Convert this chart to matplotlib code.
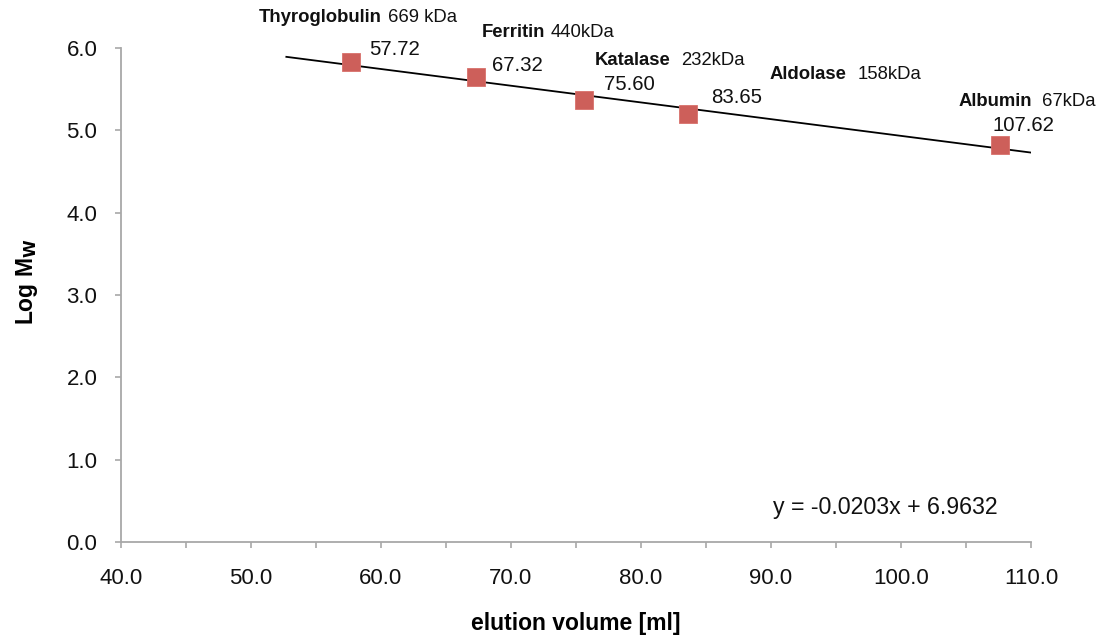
import numpy as np
import matplotlib
matplotlib.use("Agg")
import matplotlib.pyplot as plt
from matplotlib.ticker import MultipleLocator, FormatStrFormatter

plt.rcParams['font.family'] = ['Liberation Sans', 'DejaVu Sans']

# Calibration proteins for the gel-filtration column
proteins = ["Thyroglobulin", "Ferritin", "Katalase", "Aldolase", "Albumin"]
mass_labels = ["669 kDa", "440kDa", "232kDa", "158kDa", "67kDa"]
mass_kda = [669, 440, 232, 158, 67]
elution_ml = [57.72, 67.32, 75.60, 83.65, 107.62]
value_labels = ["57.72", "67.32", "75.60", "83.65", "107.62"]

# Linear calibration fit (log Mw vs elution volume)
slope = -0.0203
intercept = 6.9632
fit_range = [52.72, 110.0]

# Label placement (pixel offsets from each marker)
value_offsets = [(18, 13), (16, 12), (20, 16), (23, 17), (-8, 19)]
name_offsets = [(-93, 45), (6, 45), (11, 40), (81, 40), (-42, 43)]
name_gaps = [7, 5, 11, 11, 10]

log_mw = np.log10(np.array(mass_kda) * 1000.0)

fig = plt.figure(figsize=(11.01, 6.37), dpi=100)
ax = fig.add_axes([0.1099, 0.1491, 0.8265, 0.7755])

fx = np.array(fit_range)
ax.plot(fx, slope * fx + intercept, color='black', lw=1.3, zorder=2)
ax.plot(elution_ml, log_mw, linestyle='none', marker='s', markersize=13,
        color='#CD5F5A', markeredgecolor='#D8706B', markeredgewidth=0.6,
        zorder=3)

for x, y, v, off in zip(elution_ml, log_mw, value_labels, value_offsets):
    ax.annotate(v, (x, y), xytext=off, textcoords='offset pixels',
                fontsize=14.7, ha='left', va='center', color='#111111',
                annotation_clip=False)

for x, y, name, mass, off, gap in zip(elution_ml, log_mw, proteins,
                                      mass_labels, name_offsets, name_gaps):
    t = ax.annotate(name, (x, y), xytext=off, textcoords='offset pixels',
                    fontsize=13.3, fontweight='bold', ha='left', va='center',
                    color='#111111', annotation_clip=False)
    ax.annotate(mass, xy=(1, 0.5), xycoords=t, xytext=(gap, 0),
                textcoords='offset pixels', fontsize=13.3, ha='left',
                va='center', color='#111111', annotation_clip=False)

ax.text(0.9637, 0.07, "y = -0.0203x + 6.9632", transform=ax.transAxes,
        fontsize=16.7, ha='right', va='center', color='#111111')

ax.set_xlim(40, 110)
ax.set_ylim(0, 6)
ax.xaxis.set_major_locator(MultipleLocator(10))
ax.xaxis.set_minor_locator(MultipleLocator(5))
ax.yaxis.set_major_locator(MultipleLocator(1))
ax.xaxis.set_major_formatter(FormatStrFormatter('%.1f'))
ax.yaxis.set_major_formatter(FormatStrFormatter('%.1f'))

for side in ('top', 'right'):
    ax.spines[side].set_visible(False)
for side in ('left', 'bottom'):
    ax.spines[side].set_color('#A8A8A8')
    ax.spines[side].set_linewidth(1.3)

ax.tick_params(axis='x', which='major', direction='out', length=4,
               width=1.2, color='#A8A8A8', labelsize=16, pad=15,
               labelcolor='#111111')
ax.tick_params(axis='x', which='minor', direction='out', length=4,
               width=1.2, color='#A8A8A8')
ax.tick_params(axis='y', which='major', direction='out', length=4,
               width=1.2, color='#A8A8A8', labelsize=16, pad=13,
               labelcolor='#111111')

ax.set_xlabel("elution volume [ml]", fontsize=16.5, fontweight='bold',
              labelpad=16)
ax.set_ylabel(r"Log M$_\mathbf{W}$", fontsize=16.5, fontweight='bold',
              labelpad=19, y=0.528)

fig.savefig("out.png", dpi=100)
